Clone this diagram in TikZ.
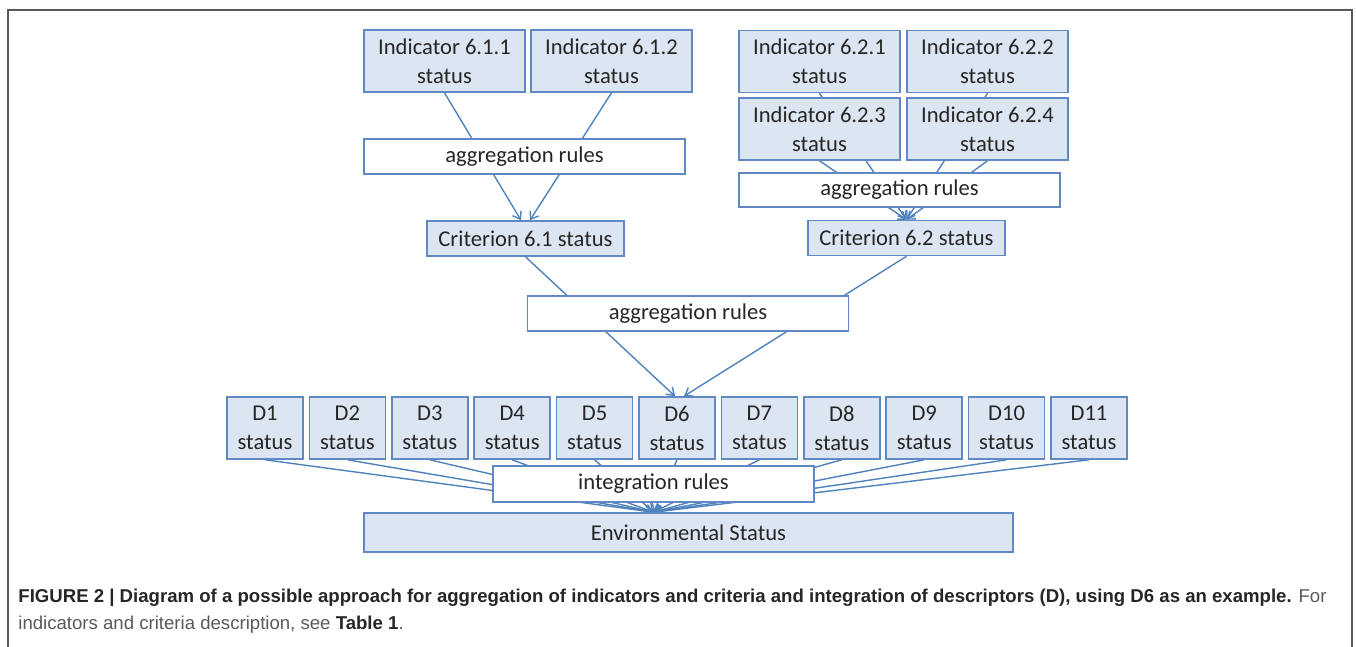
\documentclass[tikz,border=0pt]{standalone}
\usepackage{fontspec}
\setmainfont{Carlito}
\newfontfamily\capfont{Liberation Sans}
\usetikzlibrary{arrows.meta,backgrounds}
\definecolor{boxblue}{RGB}{220,230,242}
\definecolor{edgeblue}{RGB}{96,136,196}
\definecolor{lineblue}{RGB}{79,129,189}
\definecolor{txtgray}{RGB}{38,38,38}
\definecolor{capgray}{RGB}{88,89,91}

\begin{document}
\begin{tikzpicture}[x=0.5pt,y=-0.5pt,
		status/.style={draw=edgeblue,line width=0.8pt,rectangle,fill=boxblue,inner sep=0pt,align=center,text=txtgray,font=\fontsize{11.3}{14.5}\selectfont},
		ind/.style={status,minimum width=80.5pt,minimum height=31pt},
		dstat/.style={status,minimum width=38pt,minimum height=31pt},
		rules/.style={status,fill=white,minimum width=160.5pt,minimum height=17.5pt},
		arrow/.style={draw=lineblue,line width=0.7pt,-{Straight Barb[length=3.5pt,width=5pt]}}]
	\useasboundingbox (0,0) rectangle (1356,647);
	\draw[black!65,line width=0.8pt] (8,647) |- (1352,10) -- (1352,647);
		\begin{scope}
			\node [ind] (i611) at (444.5,61) {Indicator 6.1.1\\status};
			\node [ind] (i612) at (611.5,61) {Indicator 6.1.2\\status};
			\node [status, minimum width=98.5pt, minimum height=17.5pt] (c61) at (525.5,238.5) {Criterion 6.1 status};
		\end{scope}
		\begin{scope}
			\node [ind] (i621) at (819.5,61.5) {Indicator 6.2.1\\status};
			\node [ind] (i622) at (987.5,61.5) {Indicator 6.2.2\\status};
			\node [ind] (i623) at (819.5,129) {Indicator 6.2.3\\status};
			\node [ind] (i624) at (987.5,129) {Indicator 6.2.4\\status};
			\node [status, minimum width=98.5pt, minimum height=17.5pt] (c62) at (906.5,238) {Criterion 6.2 status};
		\end{scope}
	\foreach \i in {1,...,11}
		\node [dstat] (d\i) at ({265+82.4*(\i-1)},428) {D\i\\status};
	\node [status, minimum width=324.5pt, minimum height=19.5pt] (env) at (688.5,532.5) {Environmental Status};
		\begin{scope}[on background layer]
			\draw[arrow] (i611.south) -- ([xshift=-2.25pt]c61.north);
			\draw[arrow] (i612.south) -- ([xshift=2.25pt]c61.north);
			\foreach \n in {i621,i622,i623,i624}
				\draw[arrow] (\n.south) -- (c62.north);
			\draw[arrow] (c61.south) -- ([xshift=-1pt]d6.north);
			\draw[arrow] (c62.south) -- ([xshift=3.5pt]d6.north);
			\foreach \i in {1,...,11}
				\draw[arrow] (d\i.south) -- ([xshift=-17.5pt]env.north);
		\end{scope}
	\node [rules] (agg1) at (524.5,156.5) {aggregation rules};
	\node [rules, minimum height=17pt] (agg2) at (899.5,190) {aggregation rules};
	\node [rules] (agg3) at (688,313.5) {aggregation rules};
	\node [rules, minimum height=18pt] (integ) at (653.5,484) {integration rules};
	\node [anchor=north west, inner sep=0pt, align=left, text=capgray, font=\capfont\fontsize{9.3}{13.5}\selectfont] (caption) at (18,589) {\textbf{\color{txtgray}FIGURE 2 | Diagram of a possible approach for aggregation of indicators and criteria and integration of descriptors (D), using D6 as an example.} For\\indicators and criteria description, see \textbf{\color{txtgray}Table 1}.};
\end{tikzpicture}
\end{document}
